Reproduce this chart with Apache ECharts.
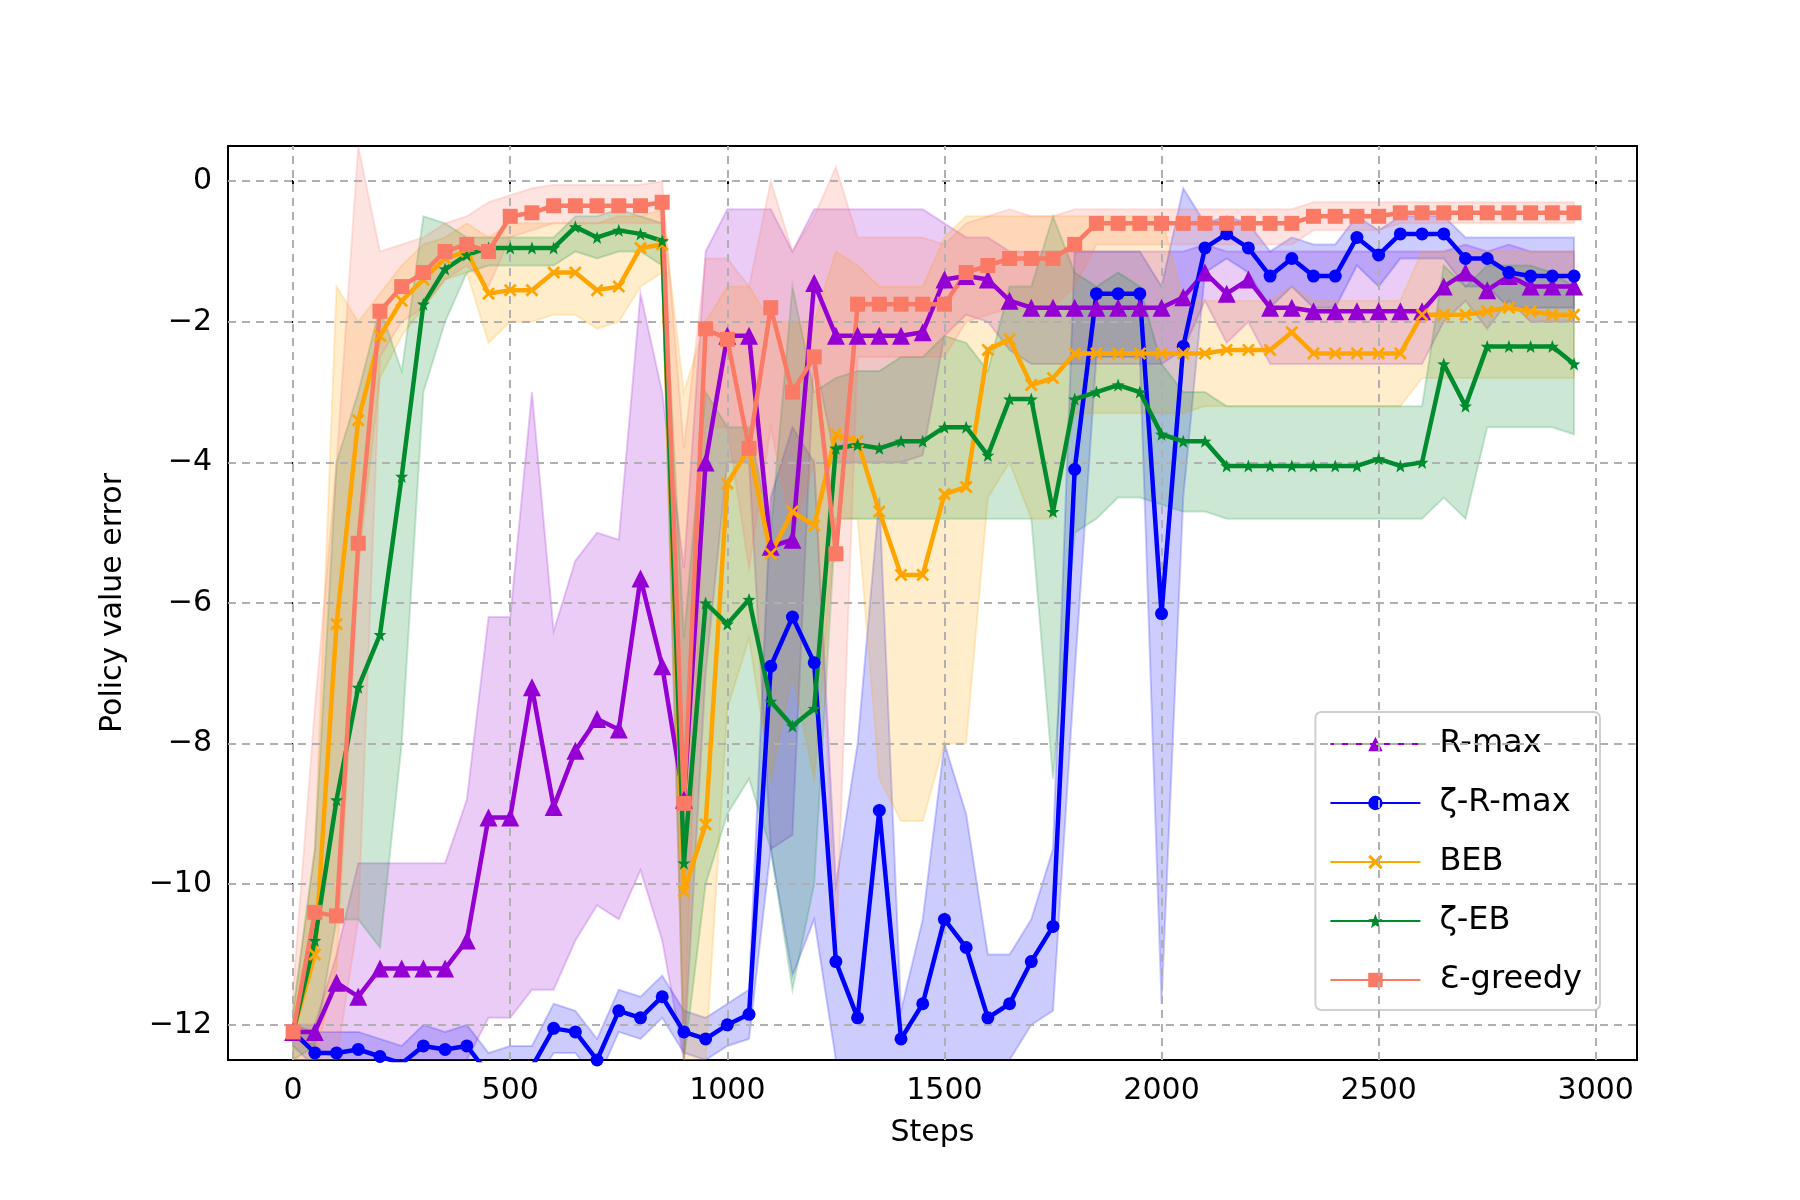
<!DOCTYPE html>
<html><head><meta charset="utf-8">
<script src="https://cdn.jsdelivr.net/npm/echarts@6/dist/echarts.min.js"></script>
<style>html,body{margin:0;padding:0;background:#fff}#c{width:1800px;height:1200px}</style>
</head><body><div id="c"></div>
<script>
const steps = []; for (let s = 0; s <= 2950; s += 50) steps.push(s);
const xTicks = [0,500,1000,1500,2000,2500,3000];
const yTicks = [-12,-10,-8,-6,-4,-2,0];

const rmax = [-12.1,-12.1,-11.4,-11.6,-11.2,-11.2,-11.2,-11.2,-10.8,-9.05,
 -9.05,-7.2,-8.9,-8.1,-7.65,-7.8,-5.65,-6.9,-8.8,-4.0,
 -2.2,-2.2,-5.2,-5.1,-1.45,-2.2,-2.2,-2.2,-2.2,-2.15,
 -1.4,-1.35,-1.4,-1.7,-1.8,-1.8,-1.8,-1.8,-1.8,-1.8,
 -1.8,-1.65,-1.3,-1.6,-1.4,-1.8,-1.8,-1.85,-1.85,-1.85,
 -1.85,-1.85,-1.85,-1.5,-1.3,-1.55,-1.35,-1.5,-1.5,-1.5];
const rmaxUp = [-12.0,-12.0,-11.0,-9.7,-9.7,-9.7,-9.7,-9.7,-8.8,-6.2,
 -6.2,-3.0,-6.4,-5.4,-5.0,-5.1,-1.6,-3.0,-5.5,-1.0,
 -0.4,-0.4,-0.4,-1.0,-0.4,-0.4,-0.4,-0.4,-0.4,-0.4,
 -0.6,-0.8,-0.8,-1.0,-1.0,-1.0,-1.0,-1.0,-1.0,-1.0,
 -1.0,-1.0,-0.9,-1.0,-1.0,-1.0,-1.0,-1.0,-1.0,-1.0,
 -1.0,-1.0,-1.0,-1.0,-0.9,-1.0,-0.9,-1.0,-1.0,-1.0];
const rmaxLo = [-12.2,-12.3,-12.5,-12.5,-12.5,-12.5,-12.5,-12.5,-12.5,-11.9,
 -11.9,-11.5,-11.5,-10.8,-10.3,-10.5,-9.8,-10.8,-12.5,-7.0,
 -4.0,-4.0,-9.5,-9.3,-2.5,-4.0,-4.0,-4.0,-4.0,-3.9,
 -2.2,-1.9,-2.0,-2.4,-2.6,-2.6,-2.6,-2.6,-2.6,-2.6,
 -2.6,-2.4,-1.7,-2.3,-2.0,-2.6,-2.6,-2.6,-2.6,-2.6,
 -2.6,-2.6,-2.6,-2.0,-1.7,-2.1,-1.7,-2.0,-2.0,-2.0];

const zrmax = [-12.1,-12.4,-12.4,-12.35,-12.45,-12.55,-12.3,-12.35,-12.3,-12.7,
 -12.6,-12.6,-12.05,-12.1,-12.5,-11.8,-11.9,-11.6,-12.1,-12.2,
 -12.0,-11.85,-6.9,-6.2,-6.85,-11.1,-11.9,-8.95,-12.2,-11.7,
 -10.5,-10.9,-11.9,-11.7,-11.1,-10.6,-4.1,-1.6,-1.6,-1.6,
 -6.15,-2.35,-0.95,-0.75,-0.95,-1.35,-1.1,-1.35,-1.35,-0.8,
 -1.05,-0.75,-0.75,-0.75,-1.1,-1.1,-1.3,-1.35,-1.35,-1.35];
const zrmaxUp = [-12.0,-12.1,-12.1,-12.1,-12.2,-12.3,-12.0,-12.1,-12.0,-12.4,
 -12.3,-12.3,-11.7,-11.8,-12.2,-11.5,-11.6,-11.3,-11.8,-11.9,
 -11.7,-11.5,-4.5,-3.5,-4.0,-10.0,-8.0,-4.5,-11.8,-10.5,
 -8.0,-9.0,-11.0,-11.0,-10.5,-9.5,-1.0,-1.0,-1.0,-1.0,
 -1.5,-0.1,-0.6,-0.5,-0.6,-1.0,-0.8,-0.9,-0.9,-0.5,
 -0.7,-0.5,-0.5,-0.5,-0.8,-0.8,-0.8,-0.8,-0.8,-0.8];
const zrmaxLo = [-12.3,-12.6,-12.6,-12.6,-12.7,-12.8,-12.6,-12.6,-12.6,-12.9,
 -12.9,-12.9,-12.4,-12.4,-12.8,-12.1,-12.2,-11.9,-12.4,-12.5,
 -12.3,-12.2,-9.5,-11.3,-10.5,-12.5,-12.5,-12.5,-12.6,-12.5,
 -12.5,-12.5,-12.6,-12.5,-12.0,-11.8,-7.0,-2.5,-2.5,-2.5,
 -11.7,-4.5,-1.3,-1.1,-1.3,-1.8,-1.5,-1.8,-1.8,-1.2,
 -1.5,-1.1,-1.1,-1.1,-1.5,-1.5,-1.8,-1.8,-1.8,-1.8];

const beb = [-12.1,-11.0,-6.3,-3.4,-2.2,-1.7,-1.4,-1.1,-1.0,-1.6,
 -1.55,-1.55,-1.3,-1.3,-1.55,-1.5,-0.95,-0.9,-10.1,-9.15,
 -4.3,-3.8,-5.3,-4.7,-4.9,-3.6,-3.7,-4.7,-5.6,-5.6,
 -4.45,-4.35,-2.4,-2.25,-2.9,-2.8,-2.45,-2.45,-2.45,-2.45,
 -2.45,-2.45,-2.45,-2.4,-2.4,-2.4,-2.15,-2.45,-2.45,-2.45,
 -2.45,-2.45,-1.9,-1.9,-1.9,-1.85,-1.8,-1.85,-1.9,-1.9];
const bebUp = [-11.8,-9.5,-1.5,-2.0,-1.6,-1.2,-0.9,-0.8,-0.6,-0.8,
 -0.6,-0.6,-0.6,-0.6,-0.6,-0.5,-0.5,-0.4,-3.0,-2.0,
 -1.5,-1.5,-2.0,-2.0,-2.0,-1.0,-1.2,-1.5,-1.5,-1.5,
 -0.8,-0.5,-0.5,-0.5,-0.5,-0.5,-0.5,-0.5,-0.5,-0.5,
 -0.5,-1.7,-1.7,-1.7,-1.7,-1.7,-1.5,-1.7,-1.7,-1.7,
 -1.7,-1.7,-1.0,-1.0,-1.0,-1.0,-1.0,-1.0,-1.0,-1.0];
const bebLo = [-12.5,-12.5,-11.2,-5.5,-2.8,-2.2,-1.8,-1.4,-1.3,-2.3,
 -2.0,-2.0,-1.9,-1.9,-2.1,-2.0,-1.5,-1.3,-12.5,-12.5,
 -7.5,-6.5,-8.5,-7.0,-8.5,-4.8,-4.8,-8.5,-9.1,-9.1,
 -8.0,-8.0,-4.5,-4.0,-4.8,-4.8,-3.3,-3.3,-3.3,-3.3,
 -3.3,-3.3,-3.2,-3.2,-3.2,-3.2,-3.2,-3.2,-3.2,-3.2,
 -3.2,-3.2,-2.8,-2.8,-2.8,-2.8,-2.8,-2.8,-2.8,-2.8];

const zeb = [-12.1,-10.8,-8.8,-7.2,-6.45,-4.2,-1.75,-1.25,-1.05,-0.95,
 -0.95,-0.95,-0.95,-0.65,-0.8,-0.7,-0.75,-0.85,-9.7,-6.0,
 -6.3,-5.95,-7.4,-7.75,-7.5,-3.8,-3.75,-3.8,-3.7,-3.7,
 -3.5,-3.5,-3.9,-3.1,-3.1,-4.7,-3.1,-3.0,-2.9,-3.0,
 -3.6,-3.7,-3.7,-4.05,-4.05,-4.05,-4.05,-4.05,-4.05,-4.05,
 -3.95,-4.05,-4.0,-2.6,-3.2,-2.35,-2.35,-2.35,-2.35,-2.6];
const zebUp = [-11.8,-9.5,-4.0,-3.0,-1.8,-2.7,-0.5,-0.6,-0.8,-0.8,
 -0.8,-0.8,-0.8,-0.5,-0.5,-0.4,-0.5,-0.6,-6.5,-3.0,
 -3.5,-3.5,-5.0,-1.5,-3.0,-2.8,-2.7,-2.7,-2.5,-2.5,
 -2.2,-2.3,-2.7,-1.5,-1.5,-0.5,-1.3,-1.5,-1.3,-1.5,
 -2.6,-3.0,-3.0,-3.2,-3.2,-3.2,-3.2,-3.2,-3.2,-3.2,
 -3.2,-3.2,-3.2,-1.2,-1.5,-1.2,-1.2,-1.2,-1.3,-1.5];
const zebLo = [-12.5,-12.3,-10.5,-10.5,-10.9,-8.0,-3.0,-2.0,-1.3,-1.2,
 -1.2,-1.2,-1.2,-1.0,-1.1,-1.0,-1.0,-1.2,-12.5,-10.0,
 -9.0,-8.5,-9.5,-11.5,-10.0,-4.8,-4.8,-4.8,-4.8,-4.8,
 -4.8,-4.8,-4.8,-4.8,-4.8,-8.5,-5.0,-4.8,-4.5,-4.5,
 -4.6,-4.7,-4.7,-4.8,-4.8,-4.8,-4.8,-4.8,-4.8,-4.8,
 -4.8,-4.8,-4.8,-4.5,-4.8,-3.5,-3.5,-3.5,-3.5,-3.6];

const eps = [-12.1,-10.4,-10.45,-5.15,-1.85,-1.5,-1.3,-1.0,-0.9,-1.0,
 -0.5,-0.45,-0.35,-0.35,-0.35,-0.35,-0.35,-0.3,-8.85,-2.1,
 -2.25,-3.8,-1.8,-3.0,-2.5,-5.3,-1.75,-1.75,-1.75,-1.75,
 -1.75,-1.3,-1.2,-1.1,-1.1,-1.1,-0.9,-0.6,-0.6,-0.6,
 -0.6,-0.6,-0.6,-0.6,-0.6,-0.6,-0.6,-0.5,-0.5,-0.5,
 -0.5,-0.45,-0.45,-0.45,-0.45,-0.45,-0.45,-0.45,-0.45,-0.45];
const epsUp = [-11.5,-7.5,-4.0,0.5,-1.0,-0.9,-0.8,-0.6,-0.5,-0.3,
 -0.2,-0.1,-0.05,-0.05,-0.05,-0.05,-0.05,0.0,-3.8,-1.1,
 -1.1,-1.5,0.0,-1.0,-0.5,0.2,-0.8,-0.8,-0.8,-0.8,
 -0.9,-0.6,-0.5,-0.4,-0.5,-0.5,-0.4,-0.4,-0.4,-0.4,
 -0.4,-0.4,-0.4,-0.4,-0.4,-0.4,-0.4,-0.3,-0.3,-0.3,
 -0.3,-0.3,-0.3,-0.3,-0.3,-0.3,-0.3,-0.3,-0.3,-0.3];
const epsLo = [-12.5,-12.5,-12.5,-10.5,-2.5,-2.0,-1.8,-1.4,-1.2,-1.5,
 -0.8,-0.7,-0.6,-0.6,-0.6,-0.6,-0.6,-0.6,-12.5,-3.5,
 -3.5,-5.5,-3.5,-5.0,-4.0,-11.0,-2.5,-2.5,-2.5,-2.5,
 -2.5,-2.0,-1.9,-1.8,-1.8,-1.8,-1.5,-0.9,-0.9,-0.9,
 -0.9,-0.9,-0.9,-0.9,-0.9,-0.9,-0.9,-0.7,-0.7,-0.7,
 -0.7,-0.6,-0.6,-0.6,-0.6,-0.6,-0.6,-0.6,-0.6,-0.6];

const xPath = 'path://M0,1.5L1.5,0L5,3.5L8.5,0L10,1.5L6.5,5L10,8.5L8.5,10L5,6.5L1.5,10L0,8.5L3.5,5Z';
const starPath = 'path://M5,0L6.3,3.5L10,3.6L7.1,5.9L8.1,9.5L5,7.4L1.9,9.5L2.9,5.9L0,3.6L3.7,3.5Z';
const defs = [
  {name:'R-max', d:rmax, up:rmaxUp, lo:rmaxLo, color:'#9400D3', sym:'triangle', size:18},
  {name:'ζ-R-max', d:zrmax, up:zrmaxUp, lo:zrmaxLo, color:'#0000FF', sym:'circle', size:13},
  {name:'BEB', d:beb, up:bebUp, lo:bebLo, color:'#FFA500', sym:xPath, size:13},
  {name:'ζ-EB', d:zeb, up:zebUp, lo:zebLo, color:'#008C2E', sym:starPath, size:13},
  {name:'Ɛ-greedy', d:eps, up:epsUp, lo:epsLo, color:'#FA7A66', sym:'rect', size:15}
];
const pair = a => steps.map((s,i)=>[s,a[i]]);
function hexA(h,a){const n=parseInt(h.slice(1),16);return `rgba(${n>>16&255},${n>>8&255},${n&255},${a})`;}

const series = [];
defs.forEach(d=>{
  series.push({type:'custom', name:d.name+'_band', silent:true, z:1, clip:true,
    data:[[steps[0], d.d[0]]], encode:{x:0,y:1},
    renderItem:(params, api)=>{
      const pts = [];
      for (let i=0;i<steps.length;i++) pts.push(api.coord([steps[i], d.up[i]]));
      for (let i=steps.length-1;i>=0;i--) pts.push(api.coord([steps[i], d.lo[i]]));
      return {type:'polygon', shape:{points:pts},
        style:{fill:hexA(d.color,0.2), stroke:hexA(d.color,0.2), lineWidth:2}};
    }});
});
defs.forEach(d=>{
  series.push({type:'line', name:d.name, data:pair(d.d), symbol:d.sym, symbolSize:d.size, showAllSymbol:true,
    itemStyle:{color:d.color}, lineStyle:{color:d.color, width:4.5}, z:5});
});
series.push({type:'line', data:[], silent:true, z:0,
  markLine:{silent:true, symbol:'none', label:{show:false},
    lineStyle:{color:'#b0b0b0', type:[8,6], width:2},
    data:[...xTicks.map(v=>({xAxis:v})), ...yTicks.map(v=>({yAxis:v}))]}});

const chart = echarts.init(document.getElementById('c'), null, {renderer:'canvas'});
chart.setOption({
  animation:false,
  textStyle:{fontFamily:'DejaVu Sans'},
  grid:{left:228, top:146, width:1409, height:914, show:true, borderColor:'#000', borderWidth:2},
  legend:{data:defs.map(d=>({name:d.name})), orient:'vertical', right:200, top:712,
    itemWidth:90, itemHeight:18, itemGap:27, padding:[16,18,14,14],
    backgroundColor:'rgba(255,255,255,0.8)', borderColor:'#d0d0d0', borderWidth:2, borderRadius:6,
    textStyle:{fontSize:32, color:'#000', fontFamily:'DejaVu Sans', padding:[0,0,0,14]}},
  xAxis:{type:'value', min:-150, max:3095, name:'Steps', nameLocation:'middle', nameGap:58,
    nameTextStyle:{fontSize:30, color:'#000'},
    axisLine:{show:false}, splitLine:{show:false},
    axisTick:{show:true, length:9, lineStyle:{color:'#000', width:2}, customValues:xTicks},
    axisLabel:{fontSize:30, color:'#000', margin:16, customValues:xTicks, formatter:v=>String(v)}},
  yAxis:{type:'value', min:-12.5, max:0.5, name:'Policy value error', nameLocation:'middle', nameGap:100,
    nameTextStyle:{fontSize:30, color:'#000'},
    axisLine:{show:false}, splitLine:{show:false},
    axisTick:{show:true, length:9, lineStyle:{color:'#000', width:2}, customValues:yTicks},
    axisLabel:{fontSize:30, color:'#000', margin:16, customValues:yTicks,
      formatter:v=>v<0?'\u2212'+Math.abs(v):String(v)}},
  series
});
</script></body></html>
